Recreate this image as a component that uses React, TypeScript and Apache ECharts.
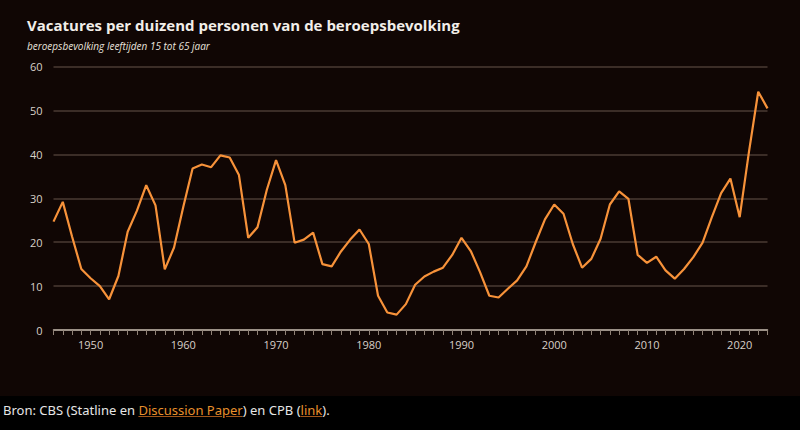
import React, { useEffect, useRef } from "react";
import * as echarts from "echarts";

const years: number[] = [];
for (let y = 1946; y <= 2023; y++) years.push(y);

const values = [
  24.7, 29.2, 21.3, 13.9, 11.8, 10.0, 7.0, 12.3, 22.4, 27.2,
  33.0, 28.4, 13.8, 18.8, 28.1, 36.8, 37.7, 37.1, 39.8, 39.3,
  35.3, 21.0, 23.4, 31.9, 38.7, 33.0, 19.9, 20.6, 22.2, 15.0,
  14.5, 17.9, 20.6, 22.9, 19.6, 7.8, 4.0, 3.5, 5.9, 10.3,
  12.2, 13.3, 14.2, 17.1, 21.0, 18.0, 13.2, 7.8, 7.4, 9.4,
  11.3, 14.5, 20.0, 25.2, 28.6, 26.5, 19.6, 14.2, 16.2, 20.8,
  28.6, 31.6, 29.9, 17.1, 15.3, 16.7, 13.6, 11.7, 13.9, 16.6,
  19.9, 25.7, 31.2, 34.5, 25.7, 40.6, 54.3, 50.5,
];

const yTicks = [0, 10, 20, 30, 40, 50, 60];

const title = "Vacatures per duizend personen van de beroepsbevolking";
const subtitle = "beroepsbevolking leeftijden 15 tot 65 jaar";

export default function App() {
  const ref = useRef<HTMLDivElement>(null);

  useEffect(() => {
    document.body.style.margin = "0";
    document.body.style.background = "#000";
    if (!ref.current) return;
    const chart = echarts.init(ref.current, null, { renderer: "svg" });
    const data = years.map((y, i) => [y, values[i]]);
    chart.setOption({
      animation: false,
      backgroundColor: "#100604",
      title: {
        text: title,
        subtext: subtitle,
        left: 22,
        top: 12,
        itemGap: 9,
        textStyle: {
          color: "#f2eee9",
          fontFamily: "Open Sans",
          fontWeight: "bold",
          fontSize: 15,
        },
        subtextStyle: {
          color: "#e8e2dc",
          fontFamily: "Open Sans",
          fontStyle: "italic",
          fontSize: 10,
        },
      },
      grid: { left: 53.5, right: 32.5, top: 66.7, bottom: 66, containLabel: false },
      xAxis: {
        type: "value",
        min: 1946,
        max: 2023,
        interval: 1,
        axisLine: { show: true, lineStyle: { color: "#bdb2a8", width: 1.5 } },
        axisTick: { show: true, length: 5, lineStyle: { color: "#8f8176", width: 1 } },
        splitLine: { show: false },
        axisLabel: {
          color: "#d8d0c8",
          fontFamily: "Open Sans",
          fontSize: 11,
          margin: 9,
          formatter: (v: number) => (v % 10 === 0 ? String(v) : ""),
        },
      },
      yAxis: {
        type: "value",
        min: yTicks[0],
        max: yTicks[yTicks.length - 1],
        interval: 10,
        axisLine: { show: false },
        axisTick: { show: false },
        splitLine: { show: true, lineStyle: { color: "#4a3b33", width: 1.5 } },
        axisLabel: {
          color: "#d8d0c8",
          fontFamily: "Open Sans",
          fontSize: 11,
          margin: 11,
        },
      },
      series: [
        {
          type: "line",
          data,
          symbol: "none",
          lineStyle: { color: "#f7923a", width: 2.2 },
        },
      ],
    });
    return () => chart.dispose();
  }, []);

  const linkStyle: React.CSSProperties = {
    color: "#e8902c",
    textDecoration: "underline",
    textDecorationColor: "#a0561a",
  };

  return (
    <div style={{ width: 800, height: 430, background: "#000" }}>
      <div ref={ref} style={{ width: 800, height: 396 }} />
      <div
        style={{
          fontFamily: "'Noto Sans', sans-serif",
          fontSize: 13,
          color: "#e6e6e6",
          paddingLeft: 3,
          paddingTop: 5,
        }}
      >
        Bron: CBS (Statline en <span style={linkStyle}>Discussion Paper</span>) en CPB (
        <span style={linkStyle}>link</span>).
      </div>
    </div>
  );
}
